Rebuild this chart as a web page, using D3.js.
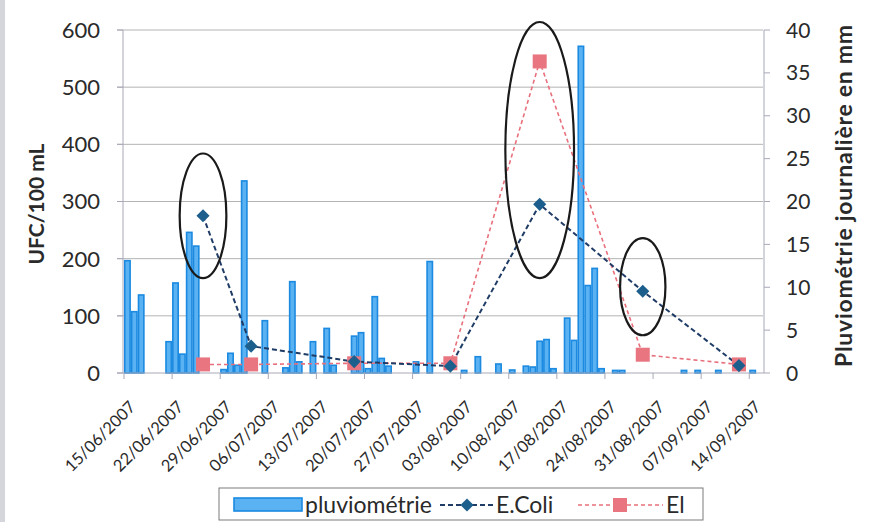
<!DOCTYPE html>
<html><head><meta charset="utf-8">
<script src="https://cdn.jsdelivr.net/npm/d3@7"></script>
<style>
html,body{margin:0;padding:0;background:#fff;}
svg{display:block;font-family:Lato,"Open Sans",sans-serif;}
</style></head>
<body><svg id="c" width="877" height="522"></svg>
<script>
// ---- data ----
const rainDates = ["15/06/2007","16/06/2007","17/06/2007","21/06/2007","22/06/2007","23/06/2007","24/06/2007","25/06/2007",
  "29/06/2007","30/06/2007","01/07/2007","02/07/2007","05/07/2007","08/07/2007","09/07/2007","10/07/2007","12/07/2007",
  "14/07/2007","15/07/2007","18/07/2007","19/07/2007","20/07/2007","21/07/2007","22/07/2007","23/07/2007","27/07/2007",
  "29/07/2007","03/08/2007","05/08/2007","08/08/2007","10/08/2007","12/08/2007","13/08/2007","14/08/2007","15/08/2007",
  "16/08/2007","18/08/2007","19/08/2007","20/08/2007","21/08/2007","22/08/2007","23/08/2007","25/08/2007","26/08/2007",
  "04/09/2007","06/09/2007","09/09/2007","14/09/2007"];
const rainMm = [13.1,7.15,9.1,3.65,10.5,2.2,16.4,14.8,
  0.4,2.3,0.9,22.4,6.1,0.6,10.65,1.3,3.65,
  5.2,0.9,4.3,4.7,0.5,8.9,1.7,0.8,1.3,
  13.0,0.3,1.9,1.05,0.35,0.8,0.7,3.7,3.9,
  0.5,6.4,3.8,38.1,10.2,12.2,0.5,0.3,0.3,
  0.3,0.3,0.3,0.3];
const sampleDates = ["26/06/2007","03/07/2007","18/07/2007","01/08/2007","14/08/2007","29/08/2007","12/09/2007"];
const eColi = [275,47,20,12,295,143,13];
const eI = [15,15,17,17,545,32,15];
const tickLabels = ["15/06/2007","22/06/2007","29/06/2007","06/07/2007","13/07/2007","20/07/2007","27/07/2007",
  "03/08/2007","10/08/2007","17/08/2007","24/08/2007","31/08/2007","07/09/2007","14/09/2007"];
const leftTicks = [0,100,200,300,400,500,600];
const rightTicks = [0,5,10,15,20,25,30,35,40];
// annotation ellipses: centre date, centre value (UFC), half-width (days), half-height (UFC)
const ringDates = ["26/06/2007","14/08/2007","29/08/2007"];
const ringValues = [275,390,151];
const ringHalfDays = [3.4,5.0,3.3];
const ringHalfUfc = [109,224,85];

// ---- chart ----
const svg = d3.select("#c");
const fmt = d3.timeFormat("%d/%m/%Y");
const allDays = d3.timeDay.range(new Date(2007,5,15), new Date(2007,8,16)).map(fmt);
const x = d3.scaleBand().domain(allDays).range([124,763]).padding(0);
const bw = x.bandwidth();
const cx = d => x(d) + bw/2;
const yL = d3.scaleLinear().domain([0,600]).range([373,30]);
const yR = d3.scaleLinear().domain([0,40]).range([373,30]);
const ink = "#2a2a2a";

// scan edge strip
svg.append("rect").attr("x",0).attr("y",0).attr("width",5).attr("height",522).attr("fill","#d4d6dc");

// gridlines
svg.append("g").selectAll("line").data(leftTicks.filter(v=>v>0)).join("line")
  .attr("x1",117).attr("x2",763).attr("y1",d=>yL(d)).attr("y2",d=>yL(d))
  .attr("stroke","#b4b4b4").attr("stroke-width",1);

// bars
svg.append("g").selectAll("rect").data(rainDates.map((d,i)=>({d,v:rainMm[i]}))).join("rect")
  .attr("x",d=>x(d.d)+0.75).attr("width",bw-1.5)
  .attr("y",d=>yR(d.v)).attr("height",d=>yR(0)-yR(d.v))
  .attr("fill","#5ab2f2").attr("stroke","#1b8ae0").attr("stroke-width",1.6);

// axes lines
svg.append("line").attr("x1",123).attr("x2",123).attr("y1",30).attr("y2",373).attr("stroke","#a8a8b8");
svg.append("line").attr("x1",764).attr("x2",764).attr("y1",30).attr("y2",373).attr("stroke","#a8a8b8");
svg.append("line").attr("x1",117).attr("x2",764).attr("y1",373).attr("y2",373).attr("stroke","#a8a8b8");
svg.append("g").selectAll("line").data(leftTicks).join("line")
  .attr("x1",117).attr("x2",123).attr("y1",d=>yL(d)).attr("y2",d=>yL(d)).attr("stroke","#a8a8b8");
svg.append("g").selectAll("line").data(rightTicks).join("line")
  .attr("x1",764).attr("x2",770).attr("y1",d=>yR(d)).attr("y2",d=>yR(d)).attr("stroke","#a8a8b8");
svg.append("g").selectAll("line").data(tickLabels).join("line")
  .attr("x1",d=>x(d)).attr("x2",d=>x(d)).attr("y1",373).attr("y2",379).attr("stroke","#a8a8b8");

// lines
const ptsC = sampleDates.map((d,i)=>({d,v:eColi[i]}));
const ptsE = sampleDates.map((d,i)=>({d,v:eI[i]}));
const line = d3.line().x(p=>cx(p.d)).y(p=>yL(p.v));
svg.append("path").datum(ptsE).attr("d",line).attr("fill","none")
  .attr("stroke","#e8707c").attr("stroke-width",1.6).attr("stroke-dasharray","4,3");
svg.append("path").datum(ptsC).attr("d",line).attr("fill","none")
  .attr("stroke","#1f3c66").attr("stroke-width",2).attr("stroke-dasharray","5,3");
svg.append("g").selectAll("rect").data(ptsE).join("rect")
  .attr("x",p=>cx(p.d)-7).attr("y",p=>yL(p.v)-7).attr("width",14).attr("height",14)
  .attr("fill","#e8757f");
svg.append("g").selectAll("path").data(ptsC).join("path")
  .attr("d",d3.symbol(d3.symbolDiamond2,110)())
  .attr("transform",p=>`translate(${cx(p.d)},${yL(p.v)})`)
  .attr("fill","#1d5f8c");

// annotation rings
svg.append("g").selectAll("ellipse").data(ringDates.map((d,i)=>({d,v:ringValues[i],hd:ringHalfDays[i],hu:ringHalfUfc[i]}))).join("ellipse")
  .attr("cx",r=>cx(r.d)).attr("cy",r=>yL(r.v))
  .attr("rx",r=>r.hd*bw).attr("ry",r=>yL(0)-yL(r.hu))
  .attr("fill","none").attr("stroke","#1a1a1a").attr("stroke-width",2.2);

// tick labels
svg.append("g").selectAll("text").data(leftTicks).join("text")
  .attr("x",100).attr("y",d=>yL(d)).attr("dy","0.36em").attr("text-anchor","end")
  .attr("font-size",22).attr("fill",ink).text(d=>d);
svg.append("g").selectAll("text").data(rightTicks).join("text")
  .attr("x",786).attr("y",d=>yR(d)).attr("dy","0.36em").attr("text-anchor","start")
  .attr("font-size",21).attr("fill",ink).text(d=>d);
svg.append("g").selectAll("text").data(tickLabels).join("text")
  .attr("transform",d=>`translate(${cx(d)+5},${404}) rotate(-45)`)
  .attr("text-anchor","end").attr("dy","0.35em")
  .attr("font-size",16.5).attr("fill",ink).text(d=>d);

// axis titles
svg.append("text").attr("transform","translate(44,204) rotate(-90)").attr("text-anchor","middle")
  .attr("font-size",21).attr("font-weight","bold").attr("fill",ink).text("UFC/100 mL");
svg.append("text").attr("transform","translate(852,196) rotate(-90)").attr("text-anchor","middle")
  .attr("font-size",23).attr("font-weight","bold").attr("fill",ink)
  .attr("textLength",342).attr("lengthAdjust","spacing").text("Pluviométrie journalière en mm");

// legend
const lg = svg.append("g");
lg.append("rect").attr("x",219).attr("y",488).attr("width",484).attr("height",32)
  .attr("fill","#fff").attr("stroke","#7a7a7a").attr("stroke-width",1);
lg.append("rect").attr("x",234).attr("y",498).attr("width",68).attr("height",13)
  .attr("fill","#5ab2f2").attr("stroke","#1b8ae0").attr("stroke-width",1.6);
lg.append("text").attr("x",305).attr("y",505).attr("dy","0.35em").attr("font-size",23).attr("fill",ink).text("pluviométrie");
lg.append("line").attr("x1",440).attr("x2",493).attr("y1",505).attr("y2",505)
  .attr("stroke","#1f3c66").attr("stroke-width",2).attr("stroke-dasharray","5,3");
lg.append("path").attr("d",d3.symbol(d3.symbolDiamond2,110)()).attr("transform","translate(467,505)").attr("fill","#1d5f8c");
lg.append("text").attr("x",496).attr("y",505).attr("dy","0.35em").attr("font-size",23).attr("fill",ink).text("E.Coli");
lg.append("line").attr("x1",578).attr("x2",663).attr("y1",505).attr("y2",505)
  .attr("stroke","#e8707c").attr("stroke-width",1.6).attr("stroke-dasharray","4,3");
lg.append("rect").attr("x",613).attr("y",498).attr("width",14).attr("height",14).attr("fill","#e8757f");
lg.append("text").attr("x",666).attr("y",505).attr("dy","0.35em").attr("font-size",23).attr("fill",ink).text("El");
</script></body></html>
